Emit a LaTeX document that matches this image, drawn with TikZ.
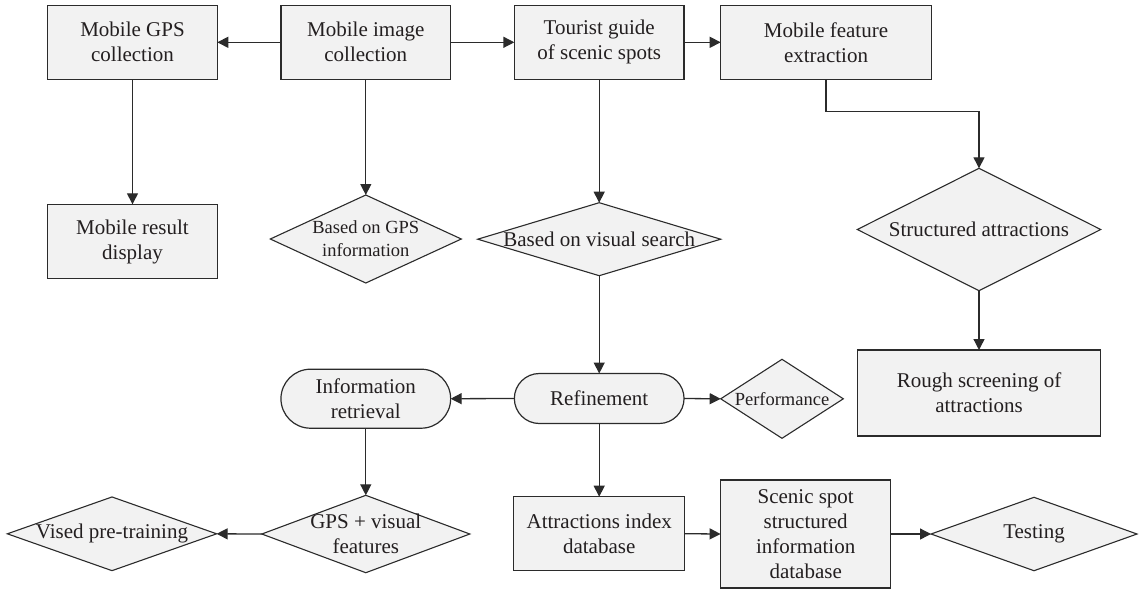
\documentclass[tikz,border=0pt]{standalone}
\usepackage{fontspec}
\setmainfont{Liberation Serif}
\usetikzlibrary{shapes.geometric,shapes.misc,arrows.meta}
\definecolor{boxfill}{HTML}{F2F2F2}
\definecolor{linec}{HTML}{2B2B2B}
\definecolor{txt}{HTML}{231F20}
\tikzset{
  base/.style={draw=linec, fill=boxfill, line width=1.2pt, inner sep=0pt, outer sep=0pt, text=txt, align=center,
    font=\fontsize{21}{25}\selectfont},
  rbox/.style={base, rectangle},
  stad/.style={base, rounded rectangle},
  dia/.style={base, diamond, line width=1.1pt},
  arr/.style={draw=linec, line width=1.3pt, -{Triangle[length=11pt,width=11pt]}},
  small/.style={font=\fontsize{18.5}{23}\selectfont},
  big/.style={font=\fontsize{21}{25}\selectfont}
}
\begin{document}
\begin{tikzpicture}[x=1pt,y=-1pt]
\useasboundingbox (0,0) rectangle (1139,590);
% top row
\node[rbox, minimum width=169.6pt, minimum height=74pt] (gps) at (132.5,42.3) {Mobile GPS\\collection};
\node[rbox, minimum width=169.7pt, minimum height=74pt] (img) at (365.8,42.3) {Mobile image\\collection};
\node[rbox, minimum width=169.7pt, minimum height=74pt] (tour) at (599.2,42.3) {Tourist guide\\of scenic spots};
\node[rbox, minimum width=210.6pt, minimum height=74pt] (feat) at (826,42.3) {Mobile feature\\extraction};
% second row
\node[rbox, minimum width=169.6pt, minimum height=74.4pt] (result) at (132.5,241.5) {Mobile result\\display};
\node[dia, minimum width=191pt, minimum height=88pt, label={[small,text=txt,align=center]center:Based on GPS\\information}] (gpsinfo) at (365.8,239) {};
\node[dia, minimum width=243pt, minimum height=73pt, label={[big,text=txt]center:Based on visual search}] (vis) at (599.2,239.2) {};
\node[dia, minimum width=243.4pt, minimum height=122.4pt, label={[big,text=txt]center:Structured attractions}] (struct) at (979,229.5) {};
% third row
\node[stad, minimum width=169.7pt, minimum height=59pt] (info) at (365.8,398.7) {Information\\retrieval};
\node[stad, minimum width=169.7pt, minimum height=50pt] (refine) at (599.2,398.5) {Refinement};
\node[dia, minimum width=122.6pt, minimum height=79pt, label={[small,text=txt]center:Performance}] (perf) at (782,398.8) {};
\node[rbox, minimum width=243.5pt, minimum height=86pt] (rough) at (979,393) {Rough screening of\\attractions};
% bottom row
\node[dia, minimum width=209.3pt, minimum height=73.7pt, label={[big,text=txt]center:Vised pre-training}] (vised) at (112,533.8) {};
\node[dia, minimum width=208pt, minimum height=77.4pt, label={[big,text=txt,align=center]center:GPS + visual\\features}] (gpsvis) at (365.8,534) {};
\node[rbox, minimum width=171pt, minimum height=74pt] (attr) at (599.2,533.7) {Attractions index\\database};
\node[rbox, minimum width=170.2pt, minimum height=108pt] (scenic) at (805.7,534) {Scenic spot\\structured\\information\\database};
\node[dia, minimum width=206pt, minimum height=73.4pt, label={[big,text=txt]center:Testing}] (test) at (1034,534) {};
% connectors
\draw[arr] (img.west) -- (gps.east);
\draw[arr] (img.east) -- (tour.west);
\draw[arr] (tour.east) -- (feat.west);
\draw[arr] (gps.south) -- (result.north);
\draw[arr] (img.south) -- (gpsinfo.north);
\draw[arr] (tour.south) -- (vis.north);
\draw[arr] (feat.south) -- ++(0,32.3) -| (struct.north);
\draw[arr] (struct.south) -- (rough.north);
\draw[arr] (vis.south) -- (refine.north);
\draw[arr] (refine.west) -- (info.east);
\draw[arr] (refine.east) -- (perf.west);
\draw[arr] (info.south) -- (gpsvis.north);
\draw[arr] (gpsvis.west) -- (vised.east);
\draw[arr] (refine.south) -- (attr.north);
\draw[arr] (attr.east) -- (scenic.west);
\draw[arr] (scenic.east) -- (test.west);
\end{tikzpicture}
\end{document}
